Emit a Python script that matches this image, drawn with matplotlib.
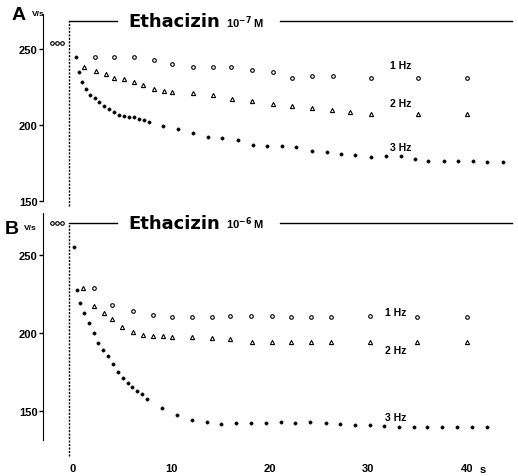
import matplotlib
matplotlib.use("Agg")
import matplotlib.pyplot as plt

plt.rcParams['font.family'] = ['Liberation Sans', 'DejaVu Sans']
plt.rcParams['font.weight'] = 'bold'

W, H = 518, 477

# ---- panel A: ethacizin 1e-7 M ----
a_pre_t = [-2.1, -1.6, -1.1]
a_pre_v = [254, 254, 254]

a_1hz_t = [2.2, 4.2, 6.2, 8.2, 10.1, 12.2, 14.2, 16.1, 18.2, 20.3, 22.2, 24.3, 26.4, 30.3, 35.1, 40.0]
a_1hz_v = [245, 245, 245, 243, 240, 238, 238, 238, 236, 235, 231, 232, 232, 231, 231, 231]

a_2hz_t = [1.1, 2.3, 3.4, 4.2, 5.2, 6.2, 7.1, 8.2, 9.2, 10.1, 12.2, 14.2, 16.2, 18.2,
           20.3, 22.2, 24.3, 26.3, 28.1, 30.3, 35.1, 40.0]
a_2hz_v = [238, 235.5, 233.5, 231, 230, 228, 226, 223.7, 222.4, 221.7, 221, 220, 217, 216,
           214, 212.5, 211, 210, 208.5, 207, 207, 207]

a_3hz_t = [0.3, 0.6, 0.9, 1.3, 1.7, 2.2, 2.6, 3.1, 3.7, 4.2, 4.7, 5.2, 5.7, 6.2, 6.7, 7.2, 7.7,
           9.1, 10.7, 12.2, 13.7, 15.1, 16.8, 18.3, 19.7, 21.2, 22.7, 24.3, 25.8, 27.2, 28.7,
           30.3, 31.8, 33.3, 34.7, 36.1, 37.7, 39.1, 40.6, 42.1, 43.7]
a_3hz_v = [245, 235, 228, 223.5, 220, 217.5, 215, 212.5, 210.5, 208.5, 206.6, 206, 205.3, 205,
           204, 203, 202, 199, 197, 194.7, 192, 191, 190, 187, 186.2, 186.2, 185.5, 183, 182.3,
           181, 180, 179, 179.6, 179.6, 177.6, 176.3, 176.3, 176.3, 176.3, 175.6, 175.6]

# ---- panel B: ethacizin 1e-6 M ----
b_pre_t = [-2.1, -1.6, -1.1]
b_pre_v = [270.5, 270.5, 270.5]

b_1hz_t = [2.1, 4.0, 6.1, 8.1, 10.1, 12.1, 14.1, 16.0, 18.1, 20.2, 22.1, 24.2, 26.2, 30.2, 35.0, 40.0]
b_1hz_v = [229, 218, 214, 211.6, 210.5, 210.5, 210.5, 211, 211, 210.7, 210.3, 210.3, 210.3,
           210.7, 210, 210]

b_2hz_t = [1.0, 2.1, 3.1, 4.0, 5.0, 6.1, 7.1, 8.1, 9.1, 10.1, 12.1, 14.1, 16.0, 18.2,
           20.2, 22.1, 24.2, 26.2, 30.2, 35.0, 40.0]
b_2hz_v = [228.7, 217.3, 212.5, 208.8, 204, 200.7, 198.7, 198, 198, 197.2, 197.2, 196.5, 195.9,
           194, 194, 194, 194, 194, 194, 194, 194]

b_3hz_t = [0.1, 0.4, 0.7, 1.1, 1.6, 2.1, 2.5, 3.0, 3.6, 4.1, 4.6, 5.1, 5.6, 6.0, 6.5, 7.0, 7.5,
           9.0, 10.6, 12.1, 13.6, 15.0, 16.6, 18.1, 19.6, 21.1, 22.6, 24.1, 25.7, 27.1, 28.7,
           30.2, 31.6, 33.1, 34.6, 36.0, 37.5, 39.0, 40.5, 42.1]
b_3hz_v = [255, 227.6, 219.5, 212.5, 206.4, 200, 193.6, 189, 185, 180, 175.2, 171.3, 168, 165.6,
           162.7, 160.7, 157.5, 151.8, 147.2, 144, 142.5, 141.6, 142, 141.9, 142, 142.5, 142,
           142.5, 142, 141.5, 141, 140.6, 140, 139.3, 139.3, 139.3, 139.3, 139.3, 139.3, 139.3]

yticks = [150, 200, 250]
xticks = [0, 10, 20, 30, 40]
xticklabels = ['0', '10', '20', '30', '40']

fig = plt.figure(figsize=(W / 100, H / 100), dpi=100)


def px_axes(x0, y0, x1, y1):
    return fig.add_axes([x0 / W, 1 - y1 / H, (x1 - x0) / W, (y1 - y0) / H])


def draw_panel(ax, pre_t, pre_v, t1, v1, t2, v2, t3, v3, bar_y, dash_bottom, exponent):
    ax.set_xlim(-3.05, 44.4)
    for s in ['top', 'right', 'bottom']:
        ax.spines[s].set_visible(False)
    ax.set_yticks(yticks)
    ax.set_yticklabels([str(v) for v in yticks], fontsize=8, fontweight='bold')
    ax.tick_params(axis='y', direction='out', length=3, width=1, pad=1)
    ax.set_facecolor('none')

    ax.plot(pre_t, pre_v, 'o', ms=2.6, mfc='white', mec='black', mew=0.8, clip_on=False)
    ax.plot(t1, v1, 'o', ms=2.6, mfc='white', mec='black', mew=0.8, clip_on=False)
    ax.plot(t2, v2, '^', ms=3.0, mfc='white', mec='black', mew=0.8, clip_on=False)
    ax.plot(t3, v3, 'o', ms=2.4, mfc='black', mec='black', mew=0.3, clip_on=False)

    # drug application marker
    ax.plot([-0.4, -0.4], [dash_bottom, bar_y], color='black', lw=1, ls=(0, (1.5, 1)),
            clip_on=False)
    ax.plot([-0.4, 4.5], [bar_y, bar_y], color='black', lw=1, clip_on=False)
    ax.plot([21.0, 44.6], [bar_y, bar_y], color='black', lw=1, clip_on=False)
    ax.text(5.6, bar_y, 'Ethacizin', fontsize=13, fontweight='bold', family='DejaVu Sans',
            va='center', ha='left')
    ax.text(15.5, bar_y, '10$^{\\mathbf{' + exponent + '}}$ M', fontsize=8, fontweight='bold',
            va='center', ha='left')


# panel A
axA = px_axes(43, 10, 510, 210)
axA.set_ylim(144.4, 276.5)
axA.spines['left'].set_bounds(150, 273)
axA.set_xticks([])
draw_panel(axA, a_pre_t, a_pre_v, a_1hz_t, a_1hz_v, a_2hz_t, a_2hz_v, a_3hz_t, a_3hz_v,
           268.4, 146.5, '-7')
axA.text(32.2, 239.5, '1 Hz', fontsize=7.5, fontweight='bold', ha='left', va='center')
axA.text(32.2, 214.5, '2 Hz', fontsize=7.5, fontweight='bold', ha='left', va='center')
axA.text(32.2, 185.5, '3 Hz', fontsize=7.5, fontweight='bold', ha='left', va='center')

# panel B
axB = px_axes(43, 215, 510, 457)
axB.set_ylim(121.0, 276.3)
axB.spines['left'].set_bounds(131, 277)
axB.spines['bottom'].set_visible(True)
axB.spines['bottom'].set_bounds(-0.6, 43.6)
axB.spines['bottom'].set_linewidth(1)
axB.set_xticks(xticks)
axB.set_xticklabels(xticklabels, fontsize=8, fontweight='bold')
axB.tick_params(axis='x', direction='out', length=0, pad=5)
draw_panel(axB, b_pre_t, b_pre_v, b_1hz_t, b_1hz_v, b_2hz_t, b_2hz_v, b_3hz_t, b_3hz_v,
           270.5, 121.0, '-6')
axB.text(41.3, 121.0 - 5.2, 's', fontsize=8, fontweight='bold', ha='left', va='top',
         clip_on=False)
axB.text(31.7, 213.5, '1 Hz', fontsize=7.5, fontweight='bold', ha='left', va='center')
axB.text(31.7, 189, '2 Hz', fontsize=7.5, fontweight='bold', ha='left', va='center')
axB.text(31.7, 146, '3 Hz', fontsize=7.5, fontweight='bold', ha='left', va='center')

# panel letters and units
fig.text(12 / W, 1 - 16 / H, 'A', fontsize=14, fontweight='bold', va='center', ha='left')
fig.text(32 / W, 1 - 15 / H, 'V/s', fontsize=6, fontweight='bold', va='center', ha='left')
fig.text(5 / W, 1 - 229 / H, 'B', fontsize=14, fontweight='bold', va='center', ha='left')
fig.text(24 / W, 1 - 229 / H, 'V/s', fontsize=6, fontweight='bold', va='center', ha='left')

fig.savefig('out.png', dpi=100, facecolor='white')
